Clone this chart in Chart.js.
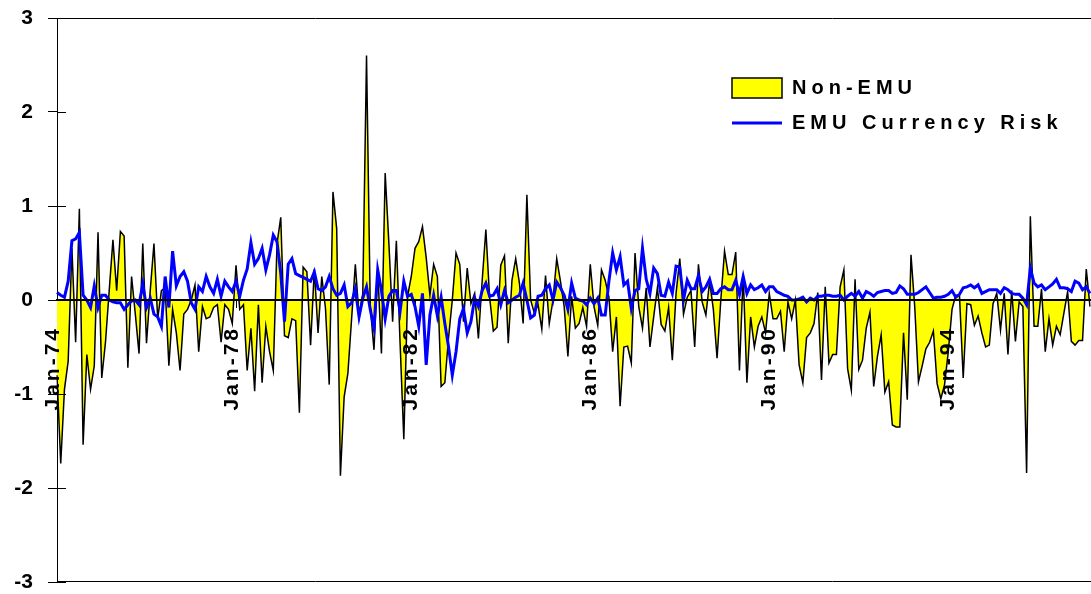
<!DOCTYPE html>
<html>
<head>
<meta charset="utf-8">
<script src="https://cdn.jsdelivr.net/npm/chart.js@4.4.1/dist/chart.umd.min.js"></script>
<style>
  html, body { margin: 0; padding: 0; background: #ffffff; }
  canvas { display: block; }
</style>
</head>
<body>
<canvas id="chart" width="1091" height="594"></canvas>
<script>
// ---- data (monthly, Jan-74 onwards) ----
const startYear = 1974;
const monthNames = ['Jan','Feb','Mar','Apr','May','Jun','Jul','Aug','Sep','Oct','Nov','Dec'];

const nonEmu = [
  -0.8, -1.74, -0.95, -0.65, 0.55, -0.45, 0.97, -1.54, -0.58, -0.95, -0.7, 0.72,
  -0.83, -0.45, 0.1, 0.64, 0.1, 0.73, 0.68, -0.72, 0.25, -0.15, -0.57, 0.6,
  -0.46, 0.1, 0.6, -0.2, 0.1, 0.13, -0.7, -0.1, -0.35, -0.75, -0.15, -0.1,
  0.0, 0.16, -0.55, -0.07, -0.2, -0.18, -0.08, -0.05, -0.45, -0.05, -0.1, -0.25,
  0.37, -0.1, -0.05, -0.75, -0.3, -0.97, -0.05, -0.88, -0.28, -0.55, -0.75, 0.6,
  0.88, -0.38, -0.4, -0.2, -0.22, -1.2, 0.35, 0.3, -0.48, 0.33, -0.35, 0.25,
  -0.09, -0.9, 1.15, 0.76, -1.87, -1.03, -0.78, -0.2, 0.38, -0.18, 0.07, 2.6,
  -0.07, -0.53, 0.33, -0.57, 1.35, 0.6, -0.23, 0.63, -0.46, -1.48, 0.04, 0.25,
  0.55, 0.62, 0.78, 0.45, 0.05, 0.38, 0.25, -0.92, -0.88, -0.4, 0.0, 0.5,
  0.38, -0.23, 0.34, -0.04, 0.07, -0.41, 0.2, 0.75, 0.03, -0.33, -0.29, 0.37,
  0.47, -0.46, 0.21, 0.44, 0.18, -0.25, 1.12, 0.0, -0.14, -0.05, -0.31, 0.26,
  -0.25, 0.0, 0.44, 0.2, -0.07, -0.6, 0.04, -0.3, -0.25, -0.08, -0.28, 0.38,
  -0.07, -0.27, 0.32, 0.21, 0.03, -0.55, -0.18, -1.13, -0.5, -0.49, -0.67, 0.5,
  -0.07, -0.3, 0.13, -0.5, -0.18, 0.13, -0.26, -0.33, -0.08, -0.64, 0.07, 0.44,
  -0.15, 0.03, 0.1, -0.5, 0.38, -0.02, -0.16, 0.2, -0.1, -0.62, 0.0, 0.52,
  0.27, 0.27, 0.51, -0.75, 0.28, -0.88, -0.18, -0.5, -0.28, -0.18, -0.35, 0.07,
  -0.2, -0.2, -0.12, -0.55, -0.02, -0.2, 0.0, -0.69, -0.88, -0.4, -0.35, -0.25,
  0.08, -0.85, 0.14, -0.67, -0.58, -0.58, 0.14, 0.32, -0.73, -0.96, 0.22, -0.74,
  -0.64, -0.3, -0.13, -0.92, -0.6, -0.37, -0.98, -0.87, -1.33, -1.35, -1.35, -0.35,
  -1.06, 0.48, -0.07, -0.87, -0.7, -0.52, -0.45, -0.33, -0.89, -1.05, -0.9, -0.55,
  -0.1, 0.05, 0.05, -0.83, -0.04, -0.05, -0.27, -0.17, -0.35, -0.5, -0.48, -0.04,
  0.07, -0.32, 0.07, -0.58, 0.1, -0.44, -0.02, -0.07, -1.84, 0.89, -0.28, -0.28,
  0.12, -0.55, -0.2, -0.48, -0.28, -0.37, -0.14, 0.09, -0.44, -0.48, -0.43, -0.43,
  0.33, -0.07
];

const emuRisk = [
  0.08, 0.05, 0.03, 0.2, 0.63, 0.65, 0.72, 0.05, 0.0, -0.08, 0.15, -0.08,
  0.05, 0.05, 0.0, -0.02, -0.03, -0.03, -0.1, -0.05, -0.01, 0.0, -0.05, 0.17,
  -0.08, 0.02, -0.15, -0.18, -0.28, 0.25, -0.08, 0.52, 0.15, 0.25, 0.3, 0.2,
  -0.03, -0.1, 0.14, 0.09, 0.25, 0.14, 0.07, 0.22, 0.04, 0.2, 0.14, 0.09,
  0.2, 0.04, 0.21, 0.33, 0.61, 0.38, 0.44, 0.55, 0.32, 0.48, 0.69, 0.62,
  0.28, -0.23, 0.38, 0.44, 0.28, 0.26, 0.24, 0.22, 0.2, 0.3, 0.12, 0.1,
  0.14, 0.25, 0.12, 0.05, 0.07, 0.16, -0.07, -0.03, 0.12, -0.18, 0.02, 0.14,
  -0.1, -0.3, 0.32, 0.1, -0.2, 0.04, 0.1, 0.1, -0.12, 0.2, 0.04, 0.06,
  -0.07, -0.28, 0.07, -0.69, -0.16, 0.05, -0.17, 0.03, -0.25, -0.5, -0.8, -0.55,
  -0.2, -0.09, -0.35, -0.23, 0.02, -0.07, 0.1, 0.18, 0.04, 0.05, 0.12, -0.05,
  0.1, -0.03, 0.0, 0.03, 0.05, 0.18, 0.0, -0.19, -0.16, 0.04, 0.05, 0.12,
  0.16, 0.0, 0.19, 0.13, 0.05, -0.1, 0.18, 0.02, 0.0, -0.01, -0.05, 0.02,
  -0.04, 0.02, -0.16, -0.16, 0.2, 0.5, 0.32, 0.46, 0.16, 0.2, -0.09, 0.1,
  0.12, 0.55, 0.22, 0.07, 0.34, 0.28, 0.05, 0.04, 0.19, 0.07, 0.36, 0.35,
  0.0, 0.21, 0.12, 0.12, 0.26, 0.09, 0.14, 0.22, 0.07, 0.07, 0.12, 0.14,
  0.11, 0.11, 0.21, 0.06, 0.25, 0.07, 0.16, 0.11, 0.13, 0.16, 0.09, 0.14,
  0.14, 0.09, 0.07, 0.05, 0.04, 0.0, 0.0, 0.01, 0.03, -0.02, 0.02, 0.0,
  0.04, 0.04, 0.05, 0.05, 0.04, 0.04, 0.05, 0.0, 0.04, 0.07, 0.04, 0.09,
  0.02, 0.09, 0.07, 0.04, 0.08, 0.09, 0.1, 0.1, 0.07, 0.08, 0.15, 0.12,
  0.06, 0.06, 0.06, 0.08, 0.11, 0.14, 0.08, 0.02, 0.03, 0.03, 0.04, 0.06,
  0.1, 0.03, 0.06, 0.13, 0.14, 0.16, 0.13, 0.16, 0.07, 0.09, 0.11, 0.11,
  0.11, 0.07, 0.13, 0.11, 0.07, 0.06, 0.06, 0.02, -0.05, 0.34, 0.18, 0.14,
  0.16, 0.11, 0.14, 0.17, 0.22, 0.13, 0.13, 0.12, 0.09, 0.2, 0.18, 0.11,
  0.14, 0.07
];

const tickLabels = ['Jan-74', 'Jan-78', 'Jan-82', 'Jan-86', 'Jan-90', 'Jan-94'];
const seriesNames = ['Non-EMU', 'EMU Currency Risk'];

const categories = nonEmu.map((_, i) =>
  monthNames[i % 12] + '-' + String((startYear + Math.floor(i / 12)) % 100).padStart(2, '0'));

// ---- styling helpers ----
const FONT = '"Liberation Sans", Arial, Helvetica, sans-serif';

function withSpacing(obj, name, sp) {
  if (!obj || obj['__sp_' + name]) return;
  const orig = obj[name];
  obj[name] = function (...args) {
    const c = this.ctx;
    c.save();
    c.letterSpacing = sp;
    const r = orig.apply(this, args);
    c.restore();
    return r;
  };
  obj['__sp_' + name] = true;
}

const decor = {
  id: 'decor',
  beforeDraw(chart) {
    withSpacing(chart.scales.x, 'drawLabels', '3px');
    withSpacing(chart.legend, 'draw', '5px');
    const lg = chart.legend;
    if (lg) {
      lg.left = 717; lg.top = 63;
      lg.right = chart.width; lg.bottom = chart.height;
      lg.width = lg.right - lg.left; lg.height = lg.bottom - lg.top;
    }
  },
  beforeDatasetsDraw(chart) {
    const { ctx, chartArea: a } = chart;
    ctx.save();
    ctx.strokeStyle = '#000';
    ctx.lineWidth = 1;
    ctx.beginPath();
    ctx.moveTo(a.left, Math.round(a.top) + 0.5); ctx.lineTo(chart.width, Math.round(a.top) + 0.5);
    ctx.moveTo(a.left, Math.round(a.bottom) - 0.5); ctx.lineTo(chart.width, Math.round(a.bottom) - 0.5);
    ctx.stroke();
    ctx.restore();
  },
  afterDraw(chart) {
    const y = chart.scales.y;
    const ctx = chart.ctx;
    ctx.save();
    ctx.strokeStyle = '#000';
    ctx.lineWidth = 1;
    ctx.beginPath();
    y.ticks.forEach(t => {
      const py = Math.round(y.getPixelForValue(t.value)) + 0.5;
      ctx.moveTo(y.right, py);
      ctx.lineTo(y.right + 9, py);
    });
    ctx.stroke();
    ctx.restore();
  }
};

new Chart(document.getElementById('chart'), {
  type: 'line',
  data: {
    labels: categories,
    datasets: [
      {
        label: seriesNames[0],
        data: nonEmu,
        borderColor: '#000000',
        backgroundColor: '#FFFF00',
        borderWidth: 1.5,
        fill: 'origin',
        tension: 0,
        pointRadius: 0,
        pointHoverRadius: 0,
        pointStyle: 'rect',
        pointBackgroundColor: '#FFFF00',
        pointBorderColor: '#000000',
        pointBorderWidth: 1.5,
        order: 2
      },
      {
        label: seriesNames[1],
        data: emuRisk,
        borderColor: '#0000FF',
        backgroundColor: '#0000FF',
        borderWidth: 3,
        fill: false,
        tension: 0,
        pointRadius: 0,
        pointHoverRadius: 0,
        pointStyle: 'line',
        pointBackgroundColor: '#0000FF',
        pointBorderColor: '#0000FF',
        pointBorderWidth: 3,
        order: 1
      }
    ]
  },
  options: {
    responsive: false,
    animation: false,
    devicePixelRatio: 1,
    events: [],
    layout: { padding: { left: 0, right: 1, top: 18, bottom: 12 } },
    plugins: {
      legend: {
        position: 'chartArea',
        align: 'start',
        labels: {
          usePointStyle: true,
          pointStyleWidth: 50,
          boxHeight: 20,
          padding: 15,
          color: '#000',
          font: { family: FONT, size: 20, weight: 'bold' },
          sort: (a, b) => a.datasetIndex - b.datasetIndex
        }
      },
      tooltip: { enabled: false }
    },
    scales: {
      x: {
        type: 'category',
        axis: 'x',
        position: { y: 0 },
        offset: false,
        grid: {
          drawOnChartArea: false,
          drawTicks: true,
          tickLength: 7,
          lineWidth: 1,
          color: (c) => (c.tick && tickLabels.includes(c.tick.label)) ? '#000' : 'rgba(0,0,0,0)'
        },
        border: { display: true, color: '#000', width: 2, z: 1 },
        ticks: {
          autoSkip: false,
          minRotation: 90,
          maxRotation: 90,
          padding: 19,
          labelOffset: -4,
          color: '#000',
          z: 1,
          font: { family: FONT, size: 21, weight: 'bold' },
          callback: (v, i) => tickLabels.includes(categories[i]) ? categories[i] : null
        }
      },
      y: {
        min: -3,
        max: 3,
        ticks: {
          stepSize: 1,
          padding: 15,
          color: '#000',
          font: { family: FONT, size: 21, weight: 'bold' }
        },
        grid: { drawOnChartArea: false, drawTicks: true, tickLength: 9, color: '#000', lineWidth: 1 },
        border: { display: true, color: '#000', width: 1 },
        afterFit: (s) => { s.width = 57; s.paddingTop = 0; s.paddingBottom = 0; }
      }
    }
  },
  plugins: [decor]
});
</script>
</body>
</html>
